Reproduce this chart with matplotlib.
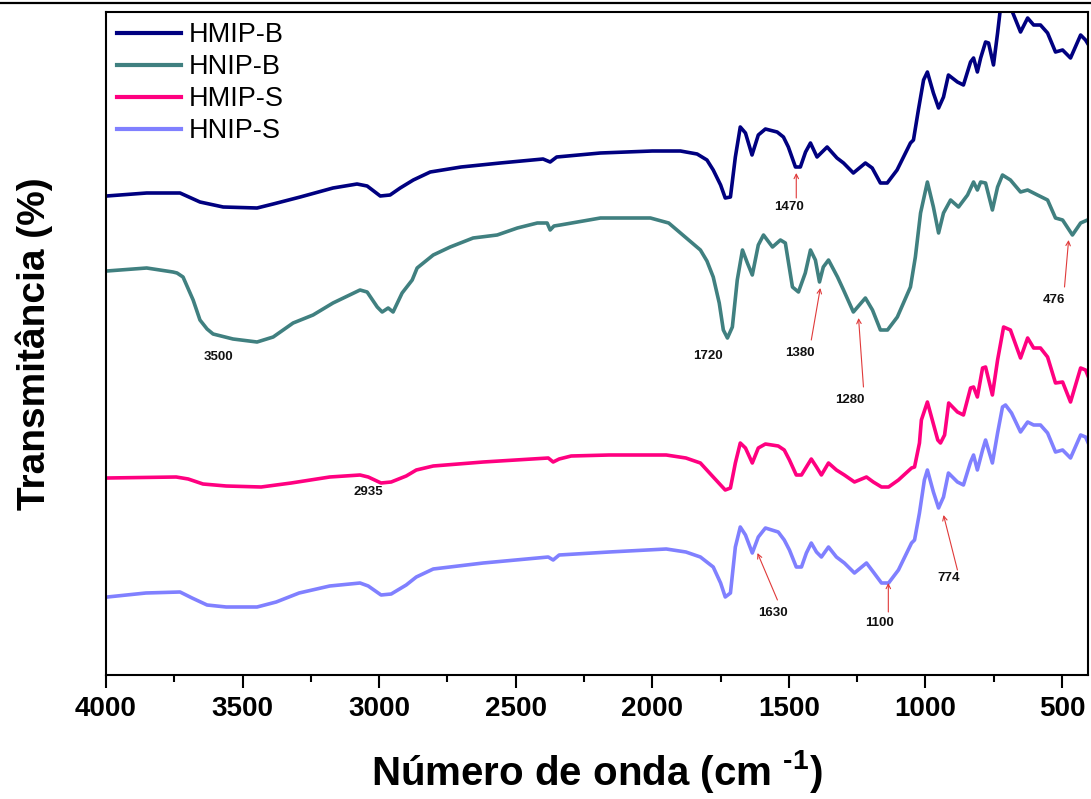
import matplotlib
matplotlib.use("Agg")
import matplotlib.pyplot as plt
from matplotlib.lines import Line2D
from matplotlib.ticker import MultipleLocator

plt.rcParams['font.family'] = ['Liberation Sans', 'DejaVu Sans']
plt.rcParams['mathtext.fontset'] = 'custom'
plt.rcParams['mathtext.rm'] = 'Liberation Sans'
plt.rcParams['mathtext.bf'] = 'Liberation Sans:bold'

# FTIR spectra (wavenumber in cm-1, offset transmittance in arbitrary units)
hmip_b_wn = [3998, 3851, 3729, 3656, 3571, 3447, 3388, 3289, 3169, 3081, 3044, 2996, 2960,
             2923, 2875, 2813, 2700, 2557, 2400, 2374, 2350, 2190, 2000, 1897, 1836,
             1800, 1777, 1750, 1733, 1714, 1696, 1678, 1659, 1635, 1612, 1586, 1543, 1520,
             1502, 1476, 1458, 1439, 1421, 1397, 1360, 1324, 1300, 1264, 1220, 1195, 1165,
             1140, 1104, 1055, 1044, 1026, 1007, 993, 971, 952, 934, 916, 883, 861, 835,
             824, 810, 798, 780, 769, 751, 736, 725, 705, 689, 652, 626, 604, 579, 553, 524,
             498, 469, 432, 414, 396]
hmip_b_t = [479, 482, 482, 473, 468, 467, 471, 478, 487, 491, 489, 479, 480,
            487, 495, 503, 508, 512, 516, 513, 518, 522, 524, 524, 521,
            515, 505, 490, 477, 478, 518, 548, 542, 520, 540, 546, 543, 538,
            528, 508, 508, 523, 532, 518, 528, 517, 512, 502, 512, 507, 492,
            492, 505, 532, 535, 565, 595, 603, 582, 567, 578, 600, 593, 590, 613,
            617, 603, 617, 633, 632, 610, 642, 668, 680, 668, 643, 657, 650, 650, 642, 623,
            625, 617, 640, 635, 627]

hnip_b_wn = [3997, 3851, 3755, 3740, 3718, 3681, 3656, 3630, 3608, 3535, 3447, 3388, 3315,
             3242, 3169, 3070, 3044, 3007, 2989, 2967, 2949, 2916, 2879, 2861, 2802, 2740,
             2656, 2568, 2494, 2421, 2385, 2374, 2360, 2337, 2190, 2007, 1940, 1897, 1824,
             1800, 1777, 1755, 1740, 1725, 1707, 1689, 1670, 1652, 1634, 1612, 1593, 1560,
             1531, 1513, 1487, 1465, 1440, 1421, 1403, 1388, 1374, 1355, 1322, 1300, 1264,
             1220, 1194, 1165, 1139, 1103, 1055, 1037, 1018, 993, 971, 952, 934, 908, 879,
             846, 824, 810, 798, 780, 755, 736, 718, 689, 652, 626, 590, 553, 524, 498, 462,
             432, 407]
hnip_b_t = [404, 407, 403, 402, 398, 375, 355, 346, 341, 336, 333, 338, 352,
            360, 372, 385, 383, 368, 363, 367, 363, 382, 395, 407, 420, 428,
            437, 440, 447, 452, 452, 445, 449, 450, 457, 457, 452, 442, 425,
            414, 398, 372, 345, 337, 348, 395, 425, 412, 400, 430, 440, 428,
            435, 432, 388, 383, 402, 425, 415, 393, 408, 415, 398, 385, 363,
            377, 365, 345, 345, 358, 388, 418, 462, 493, 468, 442, 462, 475, 468,
            480, 493, 485, 493, 492, 465, 488, 500, 495, 483, 485, 480, 475, 457, 455, 440,
            452, 455]

hmip_s_wn = [3995, 3743, 3699, 3645, 3560, 3432, 3322, 3181, 3070, 3040, 2993, 2956, 2901,
             2864, 2802, 2619, 2381, 2363, 2341, 2297, 2158, 1949, 1877, 1824, 1777, 1750,
             1733, 1714, 1696, 1678, 1659, 1634, 1612, 1586, 1539, 1517, 1498, 1473, 1454,
             1436, 1418, 1399, 1381, 1355, 1326, 1297, 1260, 1216, 1191, 1161, 1135, 1099,
             1051, 1040, 1022, 1015, 993, 975, 955, 945, 930, 915, 883, 861, 835, 824, 810,
             791, 780, 755, 736, 714, 689, 652, 626, 604, 579, 553, 524, 498, 469, 432, 414,
             396]
hmip_s_t = [197, 198, 196, 191, 189, 188, 192, 198, 200, 198, 192, 193, 199,
            205, 209, 213, 217, 213, 216, 219, 220, 220, 217, 212, 198, 190,
            185, 187, 212, 232, 227, 212, 227, 231, 229, 225, 215, 200, 200,
            208, 216, 208, 200, 212, 205, 200, 193, 198, 193, 188, 188, 195,
            207, 208, 232, 255, 273, 255, 235, 232, 240, 272, 263, 260, 287, 288, 278,
            307, 308, 280, 315, 348, 345, 317, 337, 327, 327, 318, 292, 293, 273, 307, 305,
            293]

hnip_s_wn = [3995, 3854, 3729, 3685, 3630, 3560, 3447, 3377, 3293, 3181, 3070, 3040, 2993,
             2956, 2901, 2864, 2802, 2619, 2381, 2363, 2341, 2158, 1949, 1877, 1824, 1777,
             1750, 1733, 1714, 1696, 1678, 1659, 1634, 1612, 1586, 1539, 1517, 1498, 1473,
             1454, 1436, 1418, 1399, 1381, 1355, 1326, 1297, 1260, 1216, 1191, 1161, 1135,
             1099, 1051, 1040, 1022, 1004, 993, 971, 952, 934, 916, 883, 861, 835, 824, 810,
             791, 780, 755, 736, 718, 707, 685, 652, 626, 604, 579, 553, 524, 498, 469, 432,
             414, 396]
hnip_s_t = [78, 82, 83, 77, 70, 68, 68, 73, 82, 89, 92, 89, 80,
            81, 90, 98, 106, 112, 118, 115, 120, 123, 126, 123, 118, 108,
            92, 78, 82, 128, 148, 140, 122, 138, 147, 143, 135, 125, 108,
            108, 122, 132, 123, 118, 128, 118, 112, 102, 112, 103, 92, 92,
            105, 132, 135, 162, 195, 205, 183, 167, 178, 202, 193, 190, 213, 220, 205,
            225, 235, 212, 242, 268, 270, 262, 243, 253, 250, 250, 242, 223, 225, 217, 240,
            238, 227]

series_names = ['HMIP-B', 'HNIP-B', 'HMIP-S', 'HNIP-S']
series_colors = ['#000080', '#408080', '#ff0080', '#8080ff']

# band labels: text, text position, arrow tail, arrow tip (None = no arrow)
band_labels = [
    ('1470', (1498, 468), (1473, 477), (1473, 502)),
    ('1720', (1798, 319), None, None),
    ('3500', (3590, 318), None, None),
    ('1380', (1458, 322), (1418, 335), (1385, 387)),
    ('1280', (1278, 275), (1227, 288), (1245, 357)),
    ('476', (528, 375), (491, 388), (476, 435)),
    ('2935', (3040, 183), None, None),
    ('1630', (1557, 62), (1542, 75), (1615, 122)),
    ('1100', (1169, 52), (1136, 63), (1136, 92)),
    ('774', (916, 97), (883, 105), (934, 160)),
]

fig = plt.figure(figsize=(10.91, 7.99), dpi=100)
ax = fig.add_axes([106 / 1091, 1 - 675 / 799, (1088 - 106) / 1091, (675 - 12) / 799])

data = [(hmip_b_wn, hmip_b_t), (hnip_b_wn, hnip_b_t),
        (hmip_s_wn, hmip_s_t), (hnip_s_wn, hnip_s_t)]
for (wn, t), name, col in zip(data, series_names, series_colors):
    ax.plot(wn, t, color=col, lw=2.6, label=name, solid_joinstyle='round')

for txt, tpos, tail, tip in band_labels:
    ax.text(tpos[0], tpos[1], txt, ha='center', va='center', fontsize=9.5,
            fontweight='bold', color='#111111')
    if tail is not None:
        ax.annotate('', xy=tip, xytext=tail,
                    arrowprops=dict(arrowstyle='->', color='#e03a3a', lw=0.8,
                                    shrinkA=0, shrinkB=0, mutation_scale=8))

ax.set_xlim(4000, 405)
ax.set_ylim(0, 663)
ax.xaxis.set_major_locator(MultipleLocator(500))
ax.xaxis.set_minor_locator(MultipleLocator(250))
ax.set_yticks([])
ax.tick_params(axis='x', which='major', direction='out', length=9, width=1.5,
               labelsize=20, pad=6)
ax.tick_params(axis='x', which='minor', direction='out', length=5, width=1.5)
for lab in ax.get_xticklabels():
    lab.set_fontweight('bold')
for sp in ax.spines.values():
    sp.set_linewidth(1.5)

ax.set_xlabel('Número de onda (cm $^{\\mathbf{\u20101}}$)', fontsize=29,
              fontweight='bold', labelpad=19)
ax.set_ylabel('Transmitância (%)', fontsize=28, fontweight='bold', labelpad=38)

leg = ax.legend(loc='upper left', frameon=False, fontsize=19.5, handlelength=2.36,
                handletextpad=0.3, labelspacing=0.22, borderaxespad=0.3,
                bbox_to_anchor=(-0.008, 1.013))
for h in leg.get_lines():
    h.set_linewidth(3)

fig.add_artist(Line2D([0, 1], [1 - 3 / 799] * 2, transform=fig.transFigure,
                      color='black', lw=1.6))

fig.savefig('out.png', dpi=100)
